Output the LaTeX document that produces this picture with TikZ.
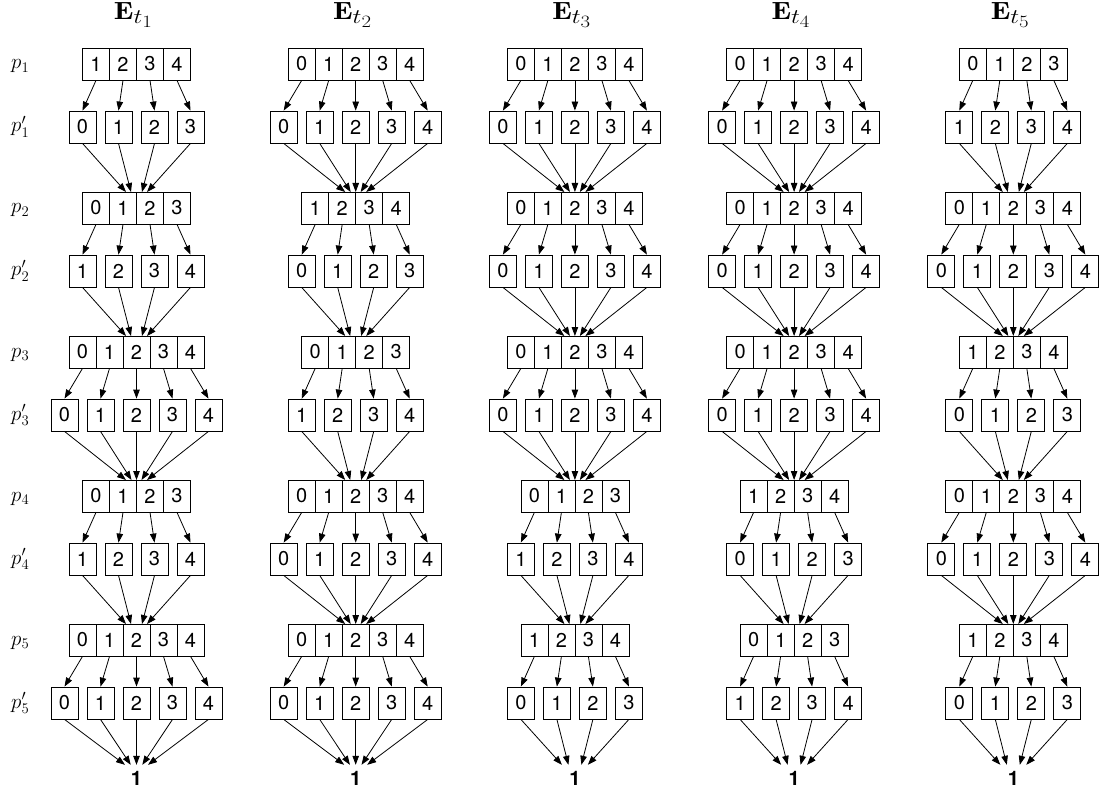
\documentclass[tikz,border=0pt]{standalone}
\usepackage{fix-cm}
\usepackage{graphicx}
\usepackage{fontspec}
\setsansfont{TeX Gyre Heros}
\usetikzlibrary{arrows.meta}
\tikzset{
 cell/.style={draw, line width=0.8pt, minimum width=27pt, minimum height=32pt, inner sep=0pt, font=\sffamily\fontsize{20}{24}\selectfont},
 arr/.style={-{Triangle[length=9pt,width=6.5pt]}, line width=0.8pt},
 lbl/.style={anchor=base west, inner sep=0pt, font=\fontsize{21}{25}\selectfont},
 ttl/.style={anchor=base, inner sep=0pt, font=\fontsize{24.88}{30}\selectfont},
 fin/.style={inner sep=0pt, minimum height=27pt, font=\sffamily\bfseries\fontsize{20}{24}\selectfont},
}
\newcommand\mydrawcol[2]{%
 \pgfmathsetmacro\cx{136.5+219.2*(#1-1)}
 \node[ttl] (title#1) at (\cx-3,19.5) {\scalebox{1.2}[1]{$\mathbf{E}_{t_{#1}}$}};
 \foreach \s/\n [count=\r] in {#2} {
   \pgfmathtruncatemacro\kk{int((\r+1)/2)}
   \pgfmathtruncatemacro\oddr{mod(\r,2)}
   \ifnum\oddr=1
     \pgfmathsetmacro\yy{64+144*(\kk-1)}
     \def\pitch{27}
     \coordinate (T#1-\r) at (\cx,\yy-16);
   \else
     \pgfmathsetmacro\yy{127+144*(\kk-1)}
     \def\pitch{36}
   \fi
   \foreach \i in {1,...,\n} {
     \pgfmathtruncatemacro\dg{\s+\i-1}
     \node[cell] (c#1-\r-\i) at ({\cx+(\i-(\n+1)/2)*\pitch},\yy) {\dg};
   }
 }
 \node[fin] (one#1) at (\cx,778.5) {1};
 \foreach \s/\n [count=\r] in {#2} {
   \pgfmathtruncatemacro\oddr{mod(\r,2)}
   \pgfmathtruncatemacro\rn{\r+1}
   \ifnum\oddr=1
     \foreach \i in {1,...,\n} \draw[arr] (c#1-\r-\i.south) -- (c#1-\rn-\i.north);
   \else
     \foreach \i in {1,...,\n} {
       \ifnum\r=10
         \ifnum\n=4 \pgfmathsetmacro\off{{-13,-6.5,6.5,13}[\i-1]}\else\pgfmathsetmacro\off{{-11.5,-5.8,0,5.8,11.5}[\i-1]}\fi
         \draw[arr] (c#1-\r-\i.south) -- ([xshift=\off pt]one#1.north);
       \else
         \ifnum\n=4 \pgfmathsetmacro\off{{-10.5,-5.5,5.5,10.5}[\i-1]}\else\pgfmathsetmacro\off{{-10.5,-5,0,5,10.5}[\i-1]}\fi
         \draw[arr] (c#1-\r-\i.south) -- ([xshift=\off pt]T#1-\rn);
       \fi
     }
   \fi
 }
}
\begin{document}
\begin{tikzpicture}[x=1pt,y=-1pt]
\useasboundingbox (0,0) rectangle (1099,791);
\foreach \kk in {1,...,5} {
  \node[lbl] (pl\kk) at (11, {64+144*(\kk-1)+5}) {$p_{\kk}$};
  \node[lbl] (pq\kk) at (11, {127+144*(\kk-1)+5}) {$p'_{\kk}$};
}
\mydrawcol{1}{1/4,0/4,0/4,1/4,0/5,0/5,0/4,1/4,0/5,0/5}
\mydrawcol{2}{0/5,0/5,1/4,0/4,0/4,1/4,0/5,0/5,0/5,0/5}
\mydrawcol{3}{0/5,0/5,0/5,0/5,0/5,0/5,0/4,1/4,1/4,0/4}
\mydrawcol{4}{0/5,0/5,0/5,0/5,0/5,0/5,1/4,0/4,0/4,1/4}
\mydrawcol{5}{0/4,1/4,0/5,0/5,1/4,0/4,0/5,0/5,1/4,0/4}
\end{tikzpicture}
\end{document}
